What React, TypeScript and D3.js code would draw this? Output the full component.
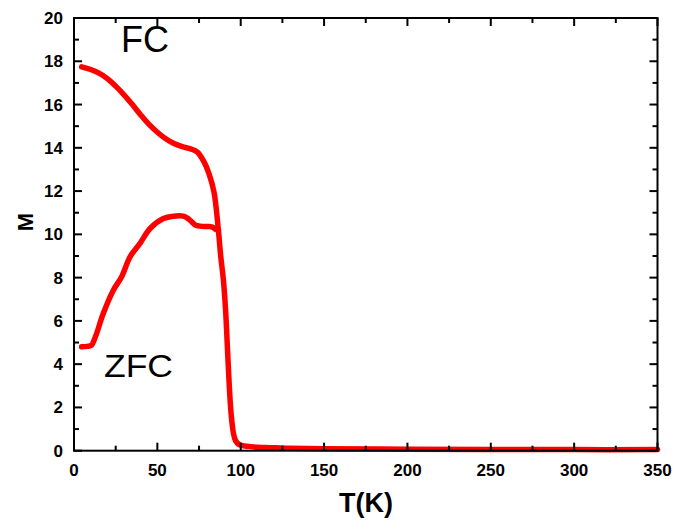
import React from "react";
import * as d3 from "d3";

const fcT = [4.6, 10, 15, 20, 25, 30, 35, 40, 45, 50, 55, 60, 65, 70, 74, 78, 81, 84, 86.6, 88, 89.6, 91, 92, 93, 94.2, 95.6, 97, 99.6, 105, 110, 117.6, 130, 150, 200, 250, 300, 350];
const fcM = [17.74, 17.62, 17.45, 17.2, 16.85, 16.45, 16.0, 15.52, 15.08, 14.72, 14.42, 14.2, 14.05, 13.95, 13.8, 13.35, 12.8, 11.95, 10.2, 9.0, 7.9, 6.4, 4.8, 3.2, 1.74, 0.82, 0.45, 0.26, 0.2, 0.16, 0.14, 0.11, 0.09, 0.07, 0.06, 0.05, 0.05];

const zfcT = [4.6, 8, 10.6, 12, 13.6, 17.6, 23.6, 28.6, 33.6, 39.6, 45.6, 53.6, 59.6, 65.6, 68, 70.6, 73, 75.6, 79, 82.6, 84.6, 86.6];
const zfcM = [4.8, 4.82, 4.88, 5.1, 5.42, 6.35, 7.42, 8.04, 8.96, 9.58, 10.27, 10.73, 10.84, 10.84, 10.75, 10.58, 10.42, 10.38, 10.36, 10.35, 10.25, 10.2];

const xTicks = [0, 50, 100, 150, 200, 250, 300, 350];
const yTicks = [0, 2, 4, 6, 8, 10, 12, 14, 16, 18, 20];
const xMinor = [25, 75, 125, 175, 225, 275, 325];
const yMinor = [1, 3, 5, 7, 9, 11, 13, 15, 17, 19];

const W = 684, H = 520;
const L = 74, R = 657.5, T = 18, B = 450.7;
const font = "'Liberation Sans', Arial, sans-serif";

export default function App() {
  const x = d3.scaleLinear().domain([0, 350]).range([L, R]);
  const y = d3.scaleLinear().domain([0, 20]).range([B, T]);
  const line = d3.line<[number, number]>().x(d => x(d[0])).y(d => y(d[1])).curve(d3.curveCatmullRom.alpha(0.5));
  const fc = line(fcT.map((t, i) => [t, fcM[i]]))!;
  const zfc = line(zfcT.map((t, i) => [t, zfcM[i]]))!;
  const maj = 8, min = 5;
  return (
    <svg width={W} height={H} style={{ position: "absolute", left: 0, top: 0, background: "#fff" }}>
      <rect x={0} y={0} width={W} height={H} fill="#fff" />
      <path d={fc} fill="none" stroke="#ff0000" strokeWidth={5.5} strokeLinejoin="round" strokeLinecap="round" />
      <path d={zfc} fill="none" stroke="#ff0000" strokeWidth={5.5} strokeLinejoin="round" strokeLinecap="round" />
      <rect x={L} y={T} width={R - L} height={B - T} fill="none" stroke="#000" strokeWidth={2} />
      {xTicks.map(v => (
        <g key={"xt" + v}>
          <line x1={x(v)} x2={x(v)} y1={B} y2={B - maj} stroke="#000" strokeWidth={2} />
          <line x1={x(v)} x2={x(v)} y1={T} y2={T + maj} stroke="#000" strokeWidth={2} />
          <text x={x(v)} y={476} textAnchor="middle" fontFamily={font} fontWeight="bold" fontSize={17}>{v}</text>
        </g>
      ))}
      {xMinor.map(v => (
        <g key={"xm" + v}>
          <line x1={x(v)} x2={x(v)} y1={B} y2={B - min} stroke="#000" strokeWidth={2} />
          <line x1={x(v)} x2={x(v)} y1={T} y2={T + min} stroke="#000" strokeWidth={2} />
        </g>
      ))}
      {yTicks.map(v => (
        <g key={"yt" + v}>
          <line x1={L} x2={L + maj} y1={y(v)} y2={y(v)} stroke="#000" strokeWidth={2} />
          <line x1={R} x2={R - maj} y1={y(v)} y2={y(v)} stroke="#000" strokeWidth={2} />
          <text x={63} y={y(v) + 6} textAnchor="end" fontFamily={font} fontWeight="bold" fontSize={17}>{v}</text>
        </g>
      ))}
      {yMinor.map(v => (
        <g key={"ym" + v}>
          <line x1={L} x2={L + min} y1={y(v)} y2={y(v)} stroke="#000" strokeWidth={2} />
          <line x1={R} x2={R - min} y1={y(v)} y2={y(v)} stroke="#000" strokeWidth={2} />
        </g>
      ))}
      <text transform="translate(33,222) rotate(-90)" textAnchor="middle" fontFamily={font} fontWeight="bold" fontSize={22}>M</text>
      <text x={366} y={512} textAnchor="middle" fontFamily={font} fontWeight="bold" fontSize={27}>T(K)</text>
      <text x={121} y={52} fontFamily={font} fontSize={36}>FC</text>
      <text x={104} y={377} fontFamily={font} fontSize={32} textLength={69} lengthAdjust="spacingAndGlyphs">ZFC</text>
    </svg>
  );
}
